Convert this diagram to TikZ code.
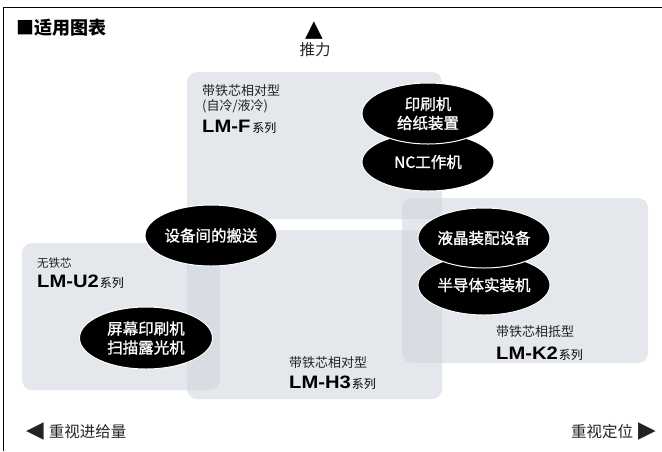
\documentclass[tikz,border=0pt]{standalone}
\usepackage{fontspec}
\setmainfont{Noto Sans CJK SC}
\newfontfamily\medf[FakeBold=1.2]{Noto Sans CJK SC}
\newfontfamily\latinb[FakeStretch=1.12]{Liberation Sans}
\newfontfamily\symf{DejaVu Sans}
\usetikzlibrary{shapes.geometric}
\definecolor{boxc}{RGB}{203,211,218}
\definecolor{txt}{RGB}{35,35,35}
\newcommand\lmfont{\latinb\bfseries\fontsize{18}{20}\selectfont}
\newcommand\serfont{\normalfont\fontsize{12}{14}\selectfont}
\newcommand\trifont{\symf\fontsize{23}{23}\selectfont}
\begin{document}
\begin{tikzpicture}[x=1pt,y=-1pt,
  boxarea/.style={fill=boxc, fill opacity=0.52, rounded corners=10pt},
  ell/.style={ellipse, fill=black, draw=white, line width=1pt, text=white,
    font=\medf\fontsize{15.5}{19}\selectfont, align=center, inner sep=0pt,
    minimum width=132pt, minimum height=61pt},
  lbl/.style={inner sep=0pt, anchor=west, text=txt, font=\fontsize{13}{15}\selectfont},
  series/.style={inner sep=0pt, anchor=base west, text=black},
  axis/.style={inner sep=0pt, text=txt, font=\fontsize{15.5}{18}\selectfont}]
\useasboundingbox (0,0) rectangle (662,451);
% frame
\draw[line width=0.8pt] (3,451) -- (3,7) -- (662,7);
% areas
\path[boxarea] (187,72) rectangle (442,219);
\path[boxarea] (22,243) rectangle (220,390);
\path[boxarea] (187,230) rectangle (442,399);
\path[boxarea] (402,198) rectangle (648,363);
% title
\node[inner sep=0pt, anchor=west, font=\bfseries\fontsize{18}{20}\selectfont] (title) at (16,28) {■适用图表};
% axes
\node[inner sep=0pt, font=\trifont] (up) at (314,31) {▲};
\node[axis] (thrust) at (315,50) {推力};
\node[axis, anchor=west] (left) at (26,432) {{\trifont ◀}\hspace{5pt}重视进给量};
\node[axis, anchor=east] (right) at (656,432) {重视定位\hspace{5pt}{\trifont ▶}};
% series labels
\node[lbl] (fa) at (202,91) {带铁芯相对型};
\node[lbl] (fb) at (202,106) {(自冷/液冷)};
\node[series] (fc) at (202,132) {{\lmfont LM-F}\hspace{2pt}{\serfont 系列}};
\node[lbl, font=\fontsize{11.5}{14}\selectfont] (ua) at (37,263) {无铁芯};
\node[series] (ub) at (37,287) {{\lmfont LM-U2}\hspace{1pt}{\serfont 系列}};
\node[lbl] (ha) at (289,363) {带铁芯相对型};
\node[series] (hb) at (289,388) {{\lmfont LM-H3}\hspace{1pt}{\serfont 系列}};
\node[lbl] (ka) at (496,332) {带铁芯相抵型};
\node[series] (kb) at (496,359) {{\lmfont LM-K2}\hspace{1pt}{\serfont 系列}};
% applications
\node[ell, minimum height=58pt] (nc) at (428,162) {NC工作机};
\node[ell] (print) at (428,113.5) {印刷机\\给纸装置};
\node[ell] (conv) at (211,235.5) {设备间的搬送};
\node[ell, minimum height=60pt] (semi) at (484,285) {半导体实装机};
\node[ell, minimum height=60pt] (lcd) at (484,238) {液晶装配设备};
\node[ell, minimum width=133pt, minimum height=62pt] (screen) at (146,338) {屏幕印刷机\\扫描露光机};
\end{tikzpicture}
\end{document}
